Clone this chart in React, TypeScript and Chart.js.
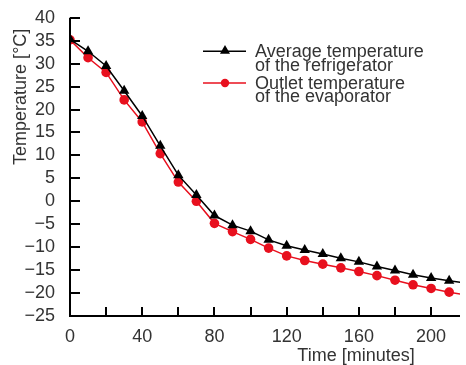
import React, { useEffect, useRef } from 'react';
import { Chart, registerables } from 'chart.js';

Chart.register(...registerables);

// ---- data ----
const times = [0, 10, 20, 30, 40, 50, 60, 70, 80, 90, 100, 110, 120, 130, 140, 150, 160, 170, 180, 190, 200, 210, 220];
const avgFridgeTemp = [35.3, 32.7, 29.5, 24.1, 18.6, 12.1, 5.7, 1.4, -3.1, -5.2, -6.5, -8.4, -9.7, -10.6, -11.5, -12.4, -13.2, -14.2, -15.1, -16.0, -16.7, -17.3, -17.9];
const outletEvapTemp = [35.2, 31.3, 28.1, 22.1, 17.3, 10.4, 4.2, 0.0, -4.8, -6.6, -8.3, -10.2, -11.9, -12.9, -13.7, -14.5, -15.3, -16.2, -17.2, -18.2, -19.0, -19.8, -20.5];

const seriesNames = [
  ['Average temperature', 'of the refrigerator'],
  ['Outlet temperature', 'of the evaporator'],
];
const xTitle = 'Time [minutes]';
const yTitle = 'Temperature [°C]';
const xMin = 0;
const xMax = 216;
const xStep = 20;
const xLabelEvery = 40;
const yMin = -25;
const yMax = 40;
const yStep = 5;

const FONT = '"Liberation Sans", Arial, sans-serif';
const TEXT = '#333333';
const RED = '#e8101e';
const BLACK = '#000000';

function drawTriangle(ctx: CanvasRenderingContext2D, x: number, y: number, r: number) {
  const h = r * 1.5;
  const w = r * Math.sqrt(3);
  ctx.beginPath();
  ctx.moveTo(x, y - r);
  ctx.lineTo(x + w / 2, y - r + h);
  ctx.lineTo(x - w / 2, y - r + h);
  ctx.closePath();
  ctx.fill();
}

const customPlugin = {
  id: 'customDecor',
  afterDraw(chart: any) {
    const { ctx, chartArea } = chart;
    const xs = chart.scales.x;
    const ys = chart.scales.y;
    const { left, right, top, bottom } = chartArea;
    ctx.save();
    // axes
    ctx.strokeStyle = BLACK;
    ctx.lineWidth = 2;
    ctx.beginPath();
    ctx.moveTo(left, top);
    ctx.lineTo(left, bottom + 1);
    ctx.moveTo(left - 1, bottom);
    ctx.lineTo(right, bottom);
    ctx.stroke();
    // inward ticks
    ctx.beginPath();
    xs.ticks.forEach((t: any) => {
      const px = Math.round(xs.getPixelForValue(t.value));
      ctx.moveTo(px, bottom);
      ctx.lineTo(px, bottom - 9);
    });
    ys.ticks.forEach((t: any) => {
      const py = Math.round(ys.getPixelForValue(t.value));
      ctx.moveTo(left, py);
      ctx.lineTo(left + 10, py);
    });
    ctx.stroke();

    // axis titles
    ctx.fillStyle = TEXT;
    ctx.font = `18px ${FONT}`;
    ctx.textAlign = 'center';
    ctx.textBaseline = 'middle';
    ctx.fillText(xTitle, left + 286, bottom + 40);
    ctx.save();
    ctx.translate(21.5, top + 79);
    ctx.rotate(-Math.PI / 2);
    ctx.fillText(yTitle, 0, 0);
    ctx.restore();

    // legend
    const lx0 = left + 133;
    const lx1 = left + 176;
    const lmx = left + 155;
    const tx = left + 185;
    const rows = [
      { color: BLACK, y: top + 33.5, marker: 'tri' },
      { color: RED, y: top + 65.2, marker: 'circ' },
    ];
    rows.forEach((row, i) => {
      ctx.strokeStyle = row.color;
      ctx.fillStyle = row.color;
      ctx.lineWidth = 1.5;
      ctx.beginPath();
      ctx.moveTo(lx0, row.y);
      ctx.lineTo(lx1, row.y);
      ctx.stroke();
      if (row.marker === 'tri') {
        drawTriangle(ctx, lmx, row.y - 0.5, 5.8);
      } else {
        ctx.beginPath();
        ctx.arc(lmx, row.y, 4.2, 0, Math.PI * 2);
        ctx.fill();
      }
      ctx.fillStyle = TEXT;
      ctx.textAlign = 'left';
      ctx.textBaseline = 'alphabetic';
      ctx.font = `18px ${FONT}`;
      ctx.fillText(seriesNames[i][0], tx, row.y + 5.5);
      ctx.fillText(seriesNames[i][1], tx, row.y + 19.3);
    });
    ctx.restore();
  },
};

export default function App() {
  const canvasRef = useRef<HTMLCanvasElement | null>(null);

  useEffect(() => {
    document.body.style.margin = '0';
    const canvas = canvasRef.current;
    if (!canvas) return;
    const chart = new Chart(canvas, {
      type: 'line',
      data: {
        datasets: [
          {
            label: seriesNames[0].join(' '),
            data: times.map((t, i) => ({ x: t, y: avgFridgeTemp[i] })),
            borderColor: BLACK,
            backgroundColor: BLACK,
            borderWidth: 1.5,
            pointStyle: 'triangle',
            pointRadius: 6,
            pointBorderWidth: 0,
            tension: 0,
          },
          {
            label: seriesNames[1].join(' '),
            data: times.map((t, i) => ({ x: t, y: outletEvapTemp[i] })),
            borderColor: RED,
            backgroundColor: RED,
            borderWidth: 1.5,
            pointStyle: 'circle',
            pointRadius: 4.8,
            pointBorderWidth: 0,
            tension: 0,
          },
        ],
      },
      options: {
        responsive: false,
        animation: false,
        devicePixelRatio: 1,
        layout: { padding: { left: 0, right: 0, top: 15.5, bottom: 0 } },
        plugins: {
          legend: { display: false },
          tooltip: { enabled: false },
        },
        scales: {
          x: {
            type: 'linear',
            min: xMin,
            max: xMax,
            grid: { display: false },
            border: { display: false },
            afterFit: (s: any) => { s.height = 49; },
            ticks: {
              stepSize: xStep,
              includeBounds: false,
              autoSkip: false,
              maxRotation: 0,
              padding: 2,
              color: TEXT,
              font: { family: FONT, size: 18 },
              callback: (v: any) => (Number(v) % xLabelEvery === 0 ? String(v) : ''),
            },
          },
          y: {
            type: 'linear',
            min: yMin,
            max: yMax,
            grid: { display: false },
            border: { display: false },
            afterFit: (s: any) => { s.width = 70; },
            ticks: {
              stepSize: yStep,
              autoSkip: false,
              padding: 7,
              color: TEXT,
              font: { family: FONT, size: 18 },
              callback: (v: any) => (Number(v) < 0 ? '\u2212' + Math.abs(Number(v)) : String(v)),
            },
          },
        },
      },
      plugins: [customPlugin],
    });
    return () => chart.destroy();
  }, []);

  return (
    <div style={{ position: 'fixed', left: 0, top: 0, width: 466, height: 365, background: '#fff' }}>
      <canvas ref={canvasRef} width={466} height={365} />
    </div>
  );
}
